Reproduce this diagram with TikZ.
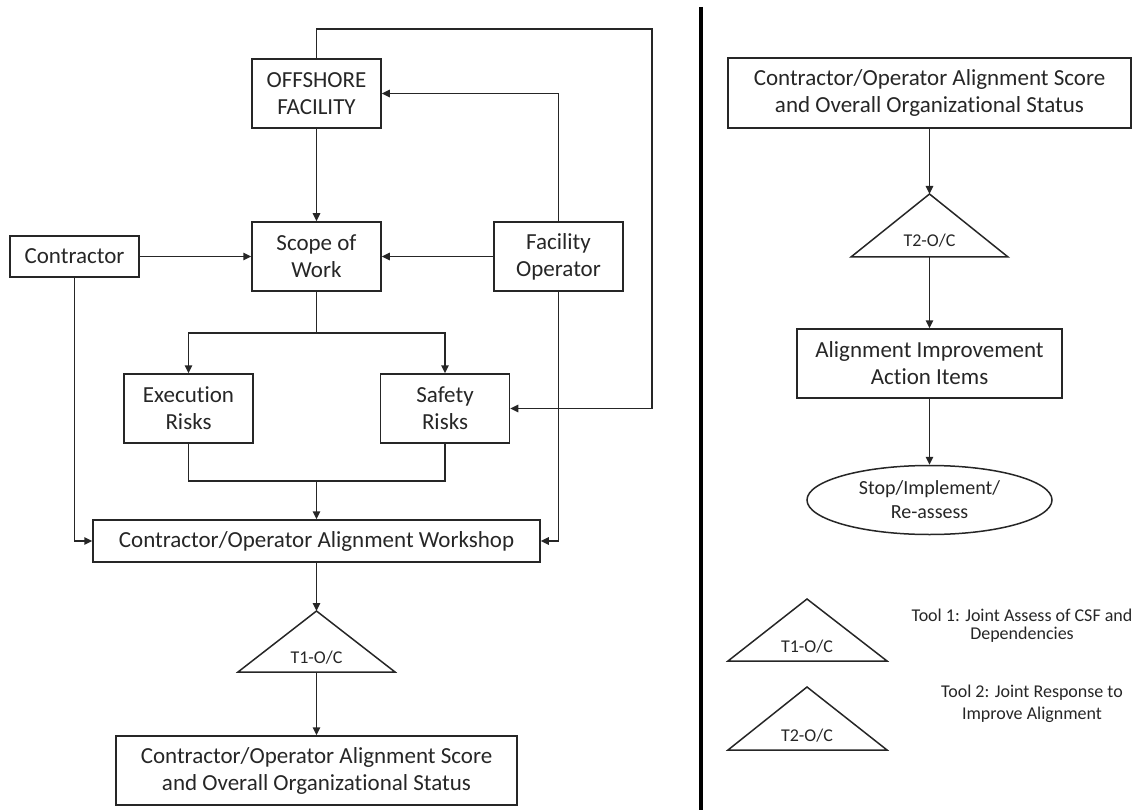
\documentclass[tikz,border=0pt]{standalone}
\usepackage{fontspec}
\setmainfont{Carlito}[Ligatures=NoCommon]
\usetikzlibrary{arrows.meta,shapes.geometric}
\begin{document}
\begin{tikzpicture}[x=1pt,y=-1pt,
  box/.style={draw=black!85, line width=1.5pt, text=black!85, inner sep=0pt,
              align=center, font=\fontsize{23}{27}\selectfont},
  stdbox/.style={box, minimum width=129pt, minimum height=69pt},
  arr/.style={draw=black!85, line width=1.5pt, -{Triangle[length=8pt,width=7.5pt]}},
  link/.style={draw=black!85, line width=1.5pt},
  tri/.style={draw=black!85, line width=1.5pt, line join=miter},
  trilabel/.style={anchor=base, text=black!85, inner sep=0pt, font=\fontsize{18}{20}\selectfont},
  note/.style={anchor=base, text=black!85, inner sep=0pt, align=center}]

\useasboundingbox (0,0) rectangle (1143,810);

% ---------- left flow ----------
\node[stdbox] (off)   at (316.5,93.5)  {OFFSHORE\\FACILITY};
\node[stdbox] (scope) at (316.5,256.5) {Scope of\\Work};
\node[box, minimum width=129pt, minimum height=41pt] (contr) at (74.5,256.5) {Contractor};
\node[stdbox] (fop)   at (558.5,256.5) {Facility\\Operator};
\node[stdbox] (exec)  at (188.5,408.5) {Execution\\Risks};
\node[stdbox] (safe)  at (445,408.5)   {Safety\\Risks};
\node[box, minimum width=447pt, minimum height=42pt] (wshop) at (316.5,541) {Contractor/Operator Alignment Workshop};
\node[box, minimum width=401pt, minimum height=69pt] (final) at (316.5,770.5) {Contractor/Operator Alignment Score\\and Overall Organizational Status};

\coordinate (loopTR) at (652,29);
\coordinate (split)  at (316.5,333);
\coordinate (merge)  at (316.5,481);

% tool 1 triangle
\coordinate (t1a) at (316.5,611);
\coordinate (t1l) at (238,672);
\coordinate (t1r) at (395,672);
\coordinate (t1b) at (316.5,672);
\draw[tri] (t1a) -- (t1r) -- (t1l) -- cycle;
\node[trilabel] (t1lab) at (316.5,663) {T1-O/C};

\draw[arr] (off.north) |- (loopTR) |- (safe.east);
\draw[arr] (fop.north) |- (off.east);
\draw[arr] (off.south) -- (scope.north);
\draw[arr] (contr.east) -- (scope.west);
\draw[arr] (fop.west) -- (scope.east);
\draw[link] (scope.south) -- (split);
\draw[arr] (split) -| (exec.north);
\draw[arr] (split) -| (safe.north);
\draw[link] (exec.south) |- (merge);
\draw[link] (safe.south) |- (merge);
\draw[arr] (merge) -- (wshop.north);
\draw[arr] (contr.south) |- (wshop.west);
\draw[arr] (fop.south) |- (wshop.east);
\draw[arr] (wshop.south) -- (t1a);
\draw[arr] (t1b) -- (final.north);

% ---------- divider ----------
\draw[line width=3.5pt, black] (701,7) -- (701,810);

% ---------- right flow ----------
\node[box, minimum width=403pt, minimum height=70pt] (score) at (929.5,93) {Contractor/Operator Alignment Score\\and Overall Organizational Status};

\coordinate (t2a) at (929.5,194);
\coordinate (t2l) at (851,257);
\coordinate (t2r) at (1008,257);
\coordinate (t2b) at (929.5,257);
\draw[tri] (t2a) -- (t2r) -- (t2l) -- cycle;
\node[trilabel] (t2lab) at (929.5,247) {T2-O/C};

\node[box, minimum width=265pt, minimum height=69pt] (align) at (929.5,363.5) {Alignment Improvement\\Action Items};
\node[box, ellipse, minimum width=245pt, minimum height=69pt, font=\fontsize{20}{24}\selectfont] (stop) at (929.5,500) {Stop/Implement/\\Re-assess};

\draw[arr] (score.south) -- (t2a);
\draw[arr] (t2b) -- (align.north);
\draw[arr] (align.south) -- (stop.north);

% ---------- legend ----------
\coordinate (l1a) at (807,599);
\coordinate (l1l) at (728,661);
\coordinate (l1r) at (887,661);
\draw[tri] (l1a) -- (l1r) -- (l1l) -- cycle;
\node[trilabel] (l1lab) at (807,652) {T1-O/C};
\node[note, font=\fontsize{18}{18}\selectfont] (l1txt) at (1022,639) {Tool 1: Joint Assess of CSF and\\Dependencies};

\coordinate (l2a) at (807,687);
\coordinate (l2l) at (728,750);
\coordinate (l2r) at (887,750);
\draw[tri] (l2a) -- (l2r) -- (l2l) -- cycle;
\node[trilabel] (l2lab) at (807,741) {T2-O/C};
\node[note, font=\fontsize{18}{22}\selectfont] (l2txt) at (1032,719) {Tool 2: Joint Response to\\Improve Alignment};

\end{tikzpicture}
\end{document}
